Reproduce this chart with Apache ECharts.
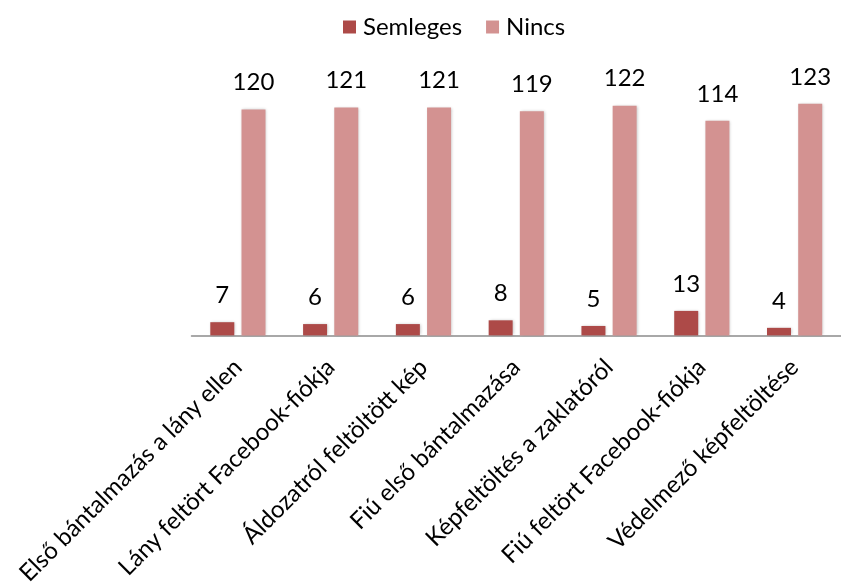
<!DOCTYPE html>
<html>
<head>
<meta charset="utf-8">
<script src="https://cdn.jsdelivr.net/npm/echarts@6/dist/echarts.min.js"></script>
<style>html,body{margin:0;padding:0;background:#fff;}#c{width:841px;height:588px;}</style>
</head>
<body>
<div id="c"></div>
<script>
const categories = ["Első bántalmazás a lány ellen","Lány feltört Facebook-fiókja","Áldozatról feltöltött kép","Fiú első bántalmazása","Képfeltöltés a zaklatóról","Fiú feltört Facebook-fiókja","Védelmező képfeltöltése"];
const semleges = [7,6,6,8,5,13,4];
const nincs = [120,121,121,119,122,114,123];
const FONT = "Lato";
const FS = 24;
const chart = echarts.init(document.getElementById('c'));
const barShadow = {shadowBlur:3, shadowColor:'rgba(0,0,0,0.25)', shadowOffsetX:1, shadowOffsetY:0};
chart.setOption({
  animation:false,
  textStyle:{fontFamily:FONT},
  legend:{
    top:10, left:338, itemWidth:13, itemHeight:13, itemGap:24,
    icon:'rect',
    textStyle:{fontFamily:FONT, fontSize:FS, color:'#000', padding:[0,0,0,2]},
    data:['Semleges','Nincs']
  },
  grid:{left:191.5, right:-8.5, top:53, bottom:250, containLabel:false},
  xAxis:{
    type:'category', data:categories,
    axisLine:{lineStyle:{color:'#8c8c8c', width:1.5}},
    axisTick:{show:false},
    axisLabel:{rotate:45, interval:0, margin:28, fontFamily:FONT, fontSize:FS, color:'#000'}
  },
  yAxis:{type:'value', min:0, max:150, show:false, splitLine:{show:false}},
  series:[
    {name:'Semleges', type:'bar', data:semleges, barWidth:24, barGap:'30%',
     itemStyle:Object.assign({color:'#ad4a48'}, barShadow),
     label:{show:true, position:'top', distance:15, fontFamily:FONT, fontSize:FS, color:'#000'}},
    {name:'Nincs', type:'bar', data:nincs, barWidth:24,
     itemStyle:Object.assign({color:'#d39291'}, barShadow),
     label:{show:true, position:'top', distance:15, fontFamily:FONT, fontSize:FS, color:'#000'}}
  ]
});
</script>
</body>
</html>
